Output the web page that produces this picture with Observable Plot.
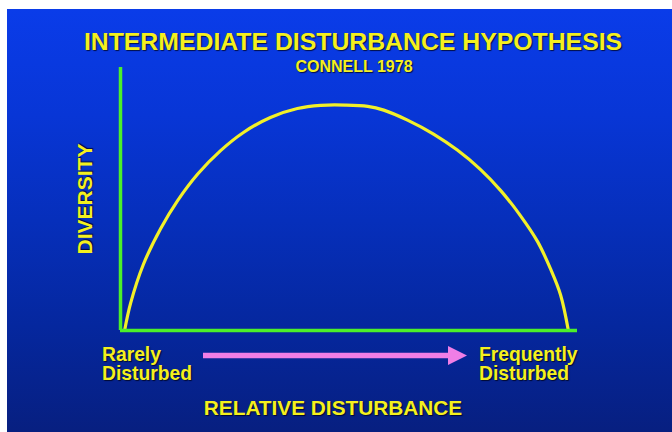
<!DOCTYPE html>
<html>
<head>
<meta charset="utf-8">
<script src="https://cdn.jsdelivr.net/npm/d3@7"></script>
<script src="https://cdn.jsdelivr.net/npm/@observablehq/plot@0.6"></script>
<style>
  html, body { margin: 0; padding: 0; background: #ffffff; }
  body { width: 672px; height: 432px; position: relative; overflow: hidden;
         font-family: "Liberation Sans", Arial, Helvetica, sans-serif; font-weight: bold; }
  #panel { position: absolute; left: 7px; top: 9px; width: 665px; height: 423px;
           background: linear-gradient(to bottom, #0a3ce9 0%, #0836d6 25%, #062fbb 50%, #05279e 75%, #071f80 100%); }
  #chart { position: absolute; left: 7px; top: 9px; }
  .t { position: absolute; color: #f4f01e; line-height: 1; white-space: nowrap;
       text-shadow: 1px 1px 1px rgba(0,0,20,0.75); }
</style>
</head>
<body>
<div id="panel"></div>
<div id="chart"></div>
<div class="t" id="title" style="left:0;width:706px;text-align:center;top:30px;font-size:24.8px;"></div>
<div class="t" id="subtitle" style="left:0;width:708px;text-align:center;top:59px;font-size:16px;"></div>
<div class="t" id="ylab" style="left:84px;top:199px;font-size:21px;transform:translate(-50%,-50%) rotate(-90deg);"></div>
<div class="t" id="left" style="left:102px;top:345px;font-size:19.3px;line-height:19px;"></div>
<div class="t" id="right" style="left:479px;top:345px;font-size:19.3px;line-height:19px;"></div>
<div class="t" id="xlab" style="left:0;width:666px;text-align:center;top:398px;font-size:20.8px;"></div>
<svg id="arrow" width="672" height="432" style="position:absolute;left:0;top:0;pointer-events:none;">
  <line x1="203" y1="355.5" x2="452" y2="355.5" stroke="#f07ee6" stroke-width="5.5"/>
  <polygon points="448,346 467,355.5 448,365" fill="#f07ee6"/>
</svg>
<script>
// Curve (relative disturbance 0-100, diversity 0-100)
const disturbance = [0.9, 2.2, 5.0, 8.8, 12.5, 16.9, 21.9, 26.9, 32.8, 38.7, 43.8, 49.2, 54.1, 57.6, 62.8, 68.5, 73.7, 78.8, 83.2, 87.5, 91.3, 94.1, 96.3, 98.0];
const diversity   = [0, 10.3, 25.1, 38.8, 49.4, 59.5, 68.4, 75.3, 81.0, 84.4, 85.6, 85.7, 85.2, 83.8, 80.0, 74.7, 68.6, 61.2, 53.2, 43.7, 33.7, 23.4, 13.5, 0];

const titleText = "INTERMEDIATE DISTURBANCE HYPOTHESIS";
const subtitleText = "CONNELL 1978";
const yLabel = "DIVERSITY";
const xLabel = "RELATIVE DISTURBANCE";
const leftLabel = ["Rarely", "Disturbed"];
const rightLabel = ["Frequently", "Disturbed"];

const data = disturbance.map((d, i) => ({x: d, y: diversity[i]}));

const yellow = "#f2f028";
const green = "#4cf02a";

const chart = Plot.plot({
  width: 665,
  height: 423,
  marginLeft: 113,
  marginRight: 95,
  marginTop: 58,
  marginBottom: 102,
  x: {domain: [0, 100], axis: null},
  y: {domain: [0, 100], axis: null},
  style: {background: "transparent", overflow: "visible"},
  marks: [
    Plot.line(data, {x: "x", y: "y", curve: "catmull-rom", stroke: yellow, strokeWidth: 3.2}),
    Plot.ruleX([0], {stroke: green, strokeWidth: 3.5}),
    Plot.ruleY([0], {stroke: green, strokeWidth: 3.5})
  ]
});
document.getElementById("chart").appendChild(chart);

document.getElementById("title").textContent = titleText;
document.getElementById("subtitle").textContent = subtitleText;
document.getElementById("ylab").textContent = yLabel;
document.getElementById("xlab").textContent = xLabel;
document.getElementById("left").innerHTML = leftLabel.join("<br>");
document.getElementById("right").innerHTML = rightLabel.join("<br>");
</script>
</body>
</html>
